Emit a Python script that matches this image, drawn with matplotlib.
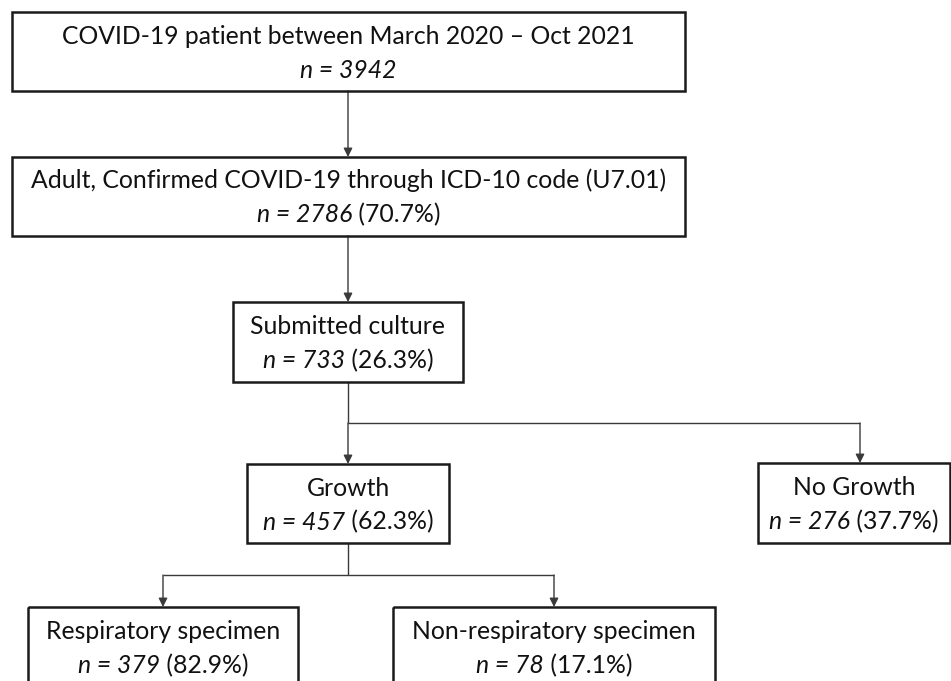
import matplotlib
matplotlib.use("Agg")
import matplotlib.pyplot as plt
from matplotlib.patches import Rectangle

# ---- data ----
titles = ["COVID-19 patient between March 2020 \u2013 Oct 2021",
          "Adult, Confirmed COVID-19 through ICD-10 code (U7.01)",
          "Submitted culture",
          "Growth",
          "No Growth",
          "Respiratory specimen",
          "Non-respiratory specimen"]
counts = [3942, 2786, 733, 457, 276, 379, 78]
percents = [None, "70.7%", "26.3%", "62.3%", "37.7%", "82.9%", "17.1%"]

# ---- layout (pixel coords) ----
W, H = 951, 681
boxes = [  # x0, x1, y0, y1
    (12, 685, 12, 91),
    (12, 685, 157, 236),
    (233, 463, 302, 382),
    (247, 449, 464, 543),
    (758, 950, 463, 543),
    (28, 298, 607, 700),
    (393, 715, 607, 700),
]
text_centers = [51.5, 196.5, 342, 503.5, 503, 647, 647]

FONT = "Lato"
FS = 17.8
EDGE = "#1a1a1a"
LINE = "#3a3a3a"

fig = plt.figure(figsize=(W / 100, H / 100), dpi=100)
ax = fig.add_axes([0, 0, 1, 1])
ax.set_xlim(0, W)
ax.set_ylim(H, 0)
ax.axis("off")

renderer = fig.canvas.get_renderer()


def draw_box(b):
    x0, x1, y0, y1 = b
    ax.add_patch(Rectangle((x0, y0), x1 - x0, y1 - y0, fill=False,
                           edgecolor=EDGE, lw=1.8, zorder=3))


def mixed_line(xc, yb, parts):
    """parts: list of (text, style). Center the combined line at xc."""
    objs = []
    for s, st in parts:
        t = ax.text(0, yb, s, fontsize=FS, family=FONT, style=st,
                    va="baseline", ha="left", color="#111111", zorder=4)
        objs.append(t)
    widths = []
    inv = ax.transData.inverted()
    for t in objs:
        bb = t.get_window_extent(renderer=renderer)
        p0 = inv.transform((bb.x0, bb.y0))
        p1 = inv.transform((bb.x1, bb.y0))
        widths.append(p1[0] - p0[0])
    total = sum(widths)
    x = xc - total / 2
    for t, w in zip(objs, widths):
        t.set_x(x)
        x += w


for i, b in enumerate(boxes):
    draw_box(b)
    xc = (b[0] + b[1]) / 2
    yc = text_centers[i]
    ax.text(xc, yc - 8, titles[i], fontsize=FS, family=FONT, ha="center",
            va="baseline", color="#111111", zorder=4)
    parts = [(f"n = {counts[i]}", "italic")]
    if percents[i] is not None:
        parts.append((f" ({percents[i]})", "normal"))
    mixed_line(xc, yc + 26, parts)


def seg(xs, ys):
    ax.plot(xs, ys, color=LINE, lw=1.0, solid_capstyle="butt", zorder=2)


def arrow(x, y0, y1):
    ax.annotate("", xy=(x, y1), xytext=(x, y0),
                arrowprops=dict(arrowstyle="-|>", color=LINE, lw=1.0,
                                mutation_scale=13, shrinkA=0, shrinkB=0),
                zorder=2)


cx = 348
arrow(cx, boxes[0][3], boxes[1][2])
arrow(cx, boxes[1][3], boxes[2][2])
# split from submitted culture
branch1 = 423
seg([cx, cx], [boxes[2][3], branch1])
seg([cx, 860], [branch1, branch1])
arrow(cx, branch1, boxes[3][2])
arrow(860, branch1, boxes[4][2])
# split from growth
branch2 = 575
seg([cx, cx], [boxes[3][3], branch2])
seg([163, 554], [branch2, branch2])
arrow(163, branch2, boxes[5][2])
arrow(554, branch2, boxes[6][2])

fig.savefig("out.png", dpi=100, facecolor="white")
